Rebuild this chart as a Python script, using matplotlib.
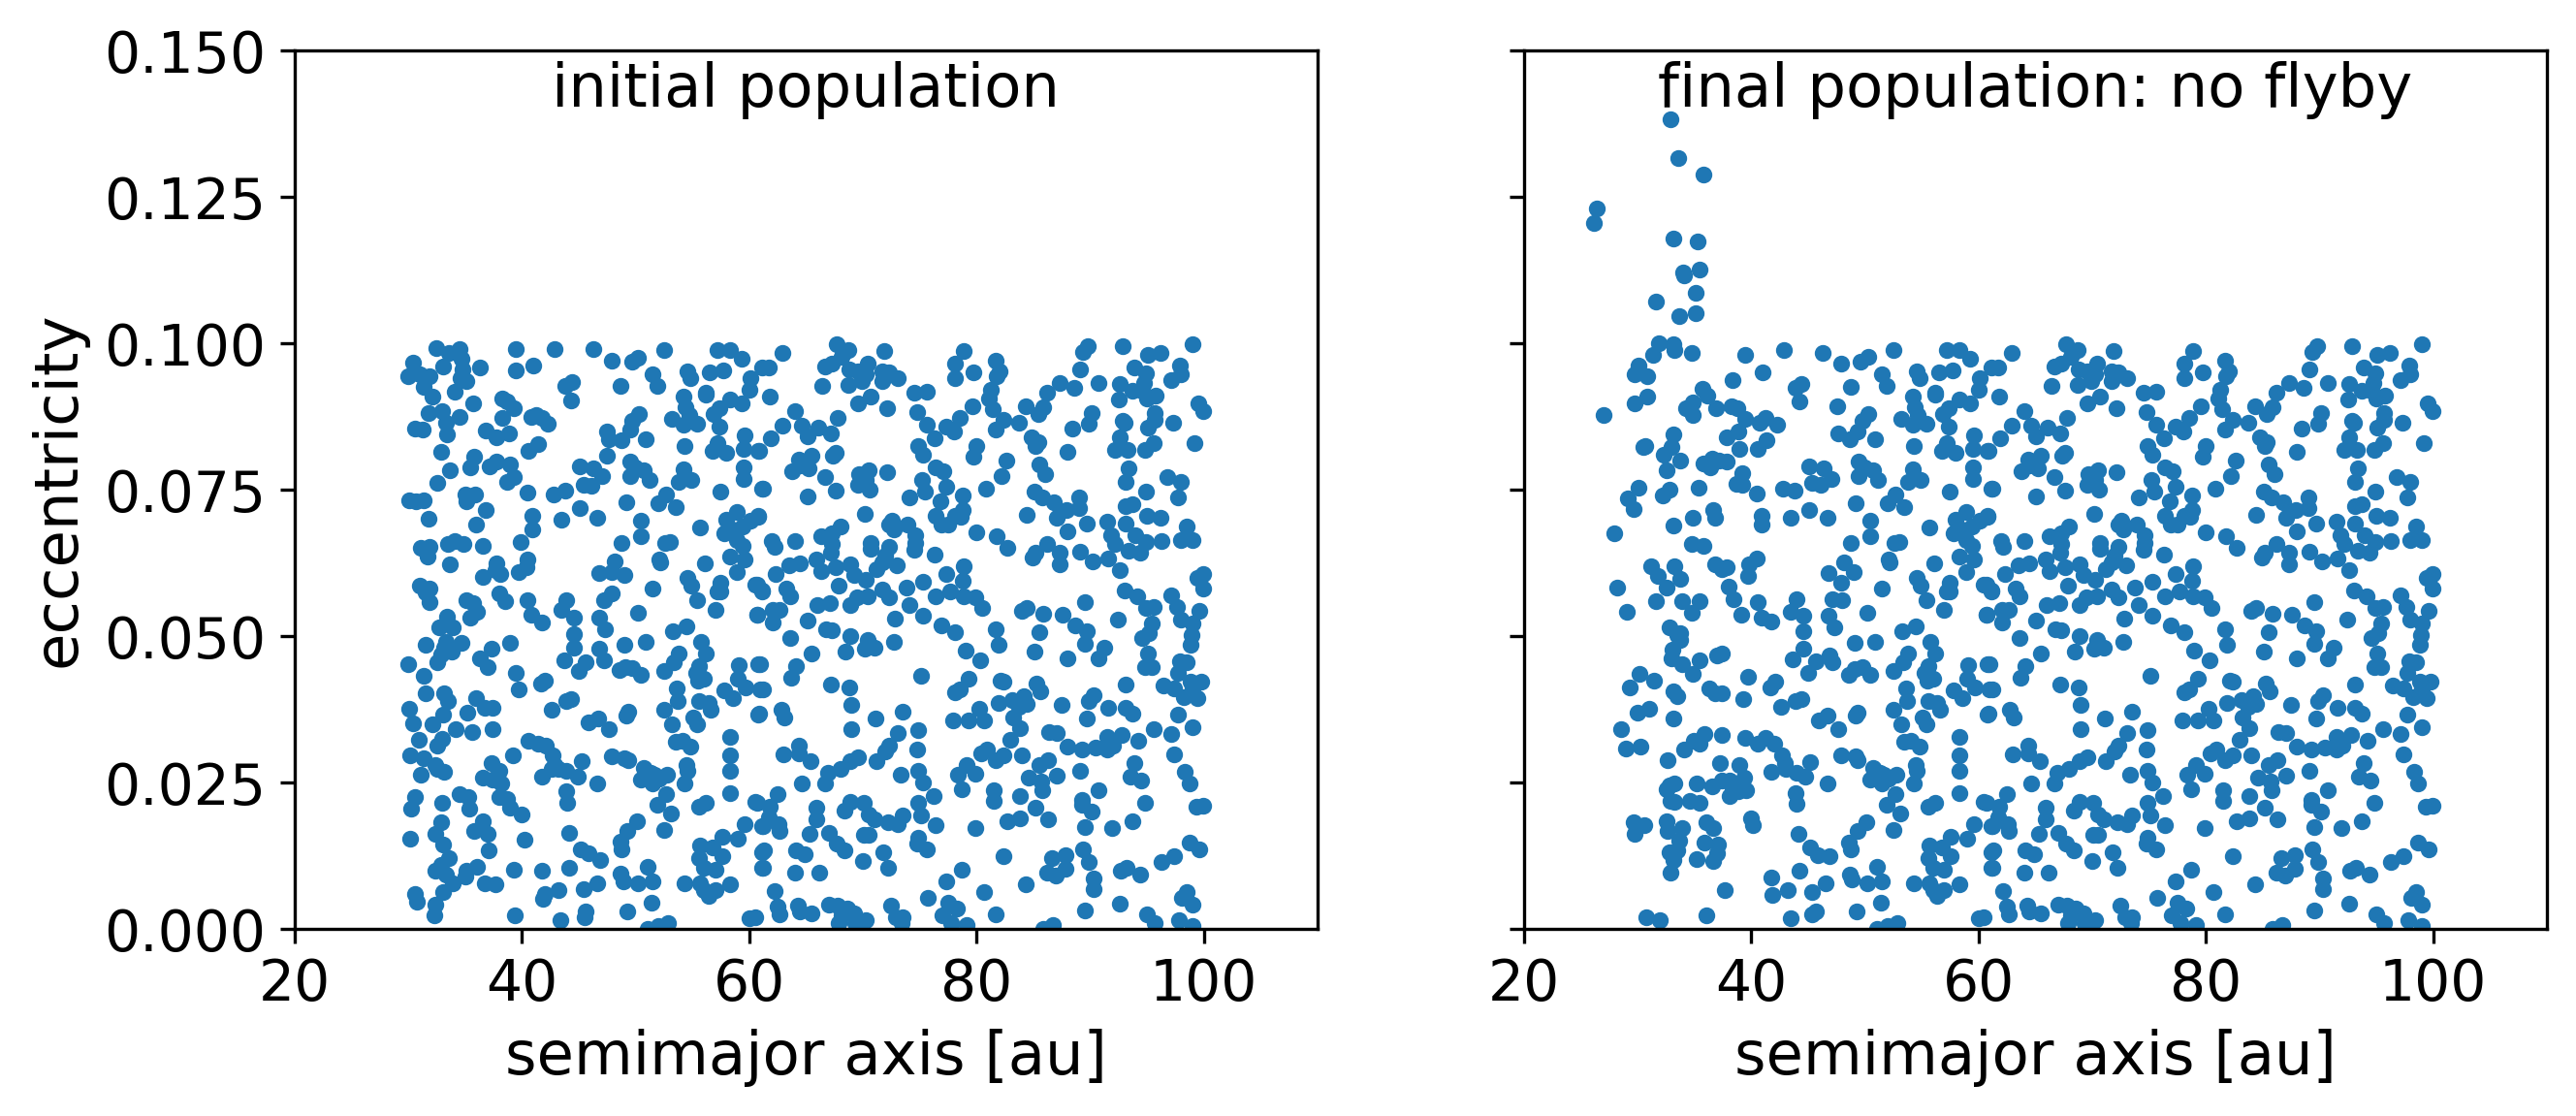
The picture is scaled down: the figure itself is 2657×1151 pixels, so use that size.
import numpy as np
import matplotlib
matplotlib.use("Agg")
import matplotlib.pyplot as plt

# (semimajor axis [au], eccentricity)

# bodies beyond about 50 au, same in both panels
shared_points = [
    (49.5,.0798),(50.0,.0789),(50.7,.0784),(49.5,.0773),(51.2,.0766),(48.8,.0660),
    (52.5,.0988),(57.2,.0988),(58.3,.0988),(59.3,.0973),(51.5,.0947),(51.9,.0927),(54.6,.0952),(54.8,.0940),
    (56.5,.0951),(57.7,.0954),(60.1,.0941),(60.0,.0921),(61.1,.0958),(56.2,.0916),(56.2,.0912),(54.2,.0909),
    (54.4,.0891),(58.3,.0904),(59.3,.0897),(57.4,.0889),(56.9,.0879),(57.4,.0858),(53.2,.0871),(54.2,.0861),
    (54.7,.0878),(55.4,.0863),(50.3,.0879),(50.9,.0836),(54.3,.0825),(57.2,.0830),(56.8,.0817),(58.0,.0813),
    (59.6,.0843),(59.5,.0819),(60.8,.0817),(59.5,.0788),(59.5,.0768),(54.2,.0785),(53.8,.0763),(54.9,.0767),
    (57.5,.0747),(61.1,.0752),(52.7,.0742),(52.0,.0727),(53.5,.0720),(50.5,.0698),(50.5,.0670),(55.7,.0686),
    (58.9,.0712),(58.0,.0699),(57.8,.0676),(58.5,.0682),(59.4,.0687),(60.1,.0698),(60.8,.0705),(58.9,.0665),
    (59.4,.0654),(52.6,.0660),(53.0,.0661),(52.1,.0631),(52.2,.0626),(56.1,.0624),(58.3,.0636),(59.6,.0631),
    (58.9,.0610),(54.6,.0599),(54.9,.0586),(57.5,.0591),(57.2,.0577),(57.5,.0576),(51.5,.0582),(55.4,.0561),
    (60.5,.0588),(61.1,.0577),(57.0,.0545),(60.7,.0536),(53.3,.0509),(54.5,.0517),
    (50.9,.0491),(55.8,.0490),(56.2,.0471),(53.8,.0470),(53.4,.0455),(52.5,.0441),(50.5,.0434),(55.6,.0449),
    (55.3,.0438),(56.0,.0428),(55.5,.0424),(59.1,.0450),(60.8,.0453),(59.0,.0427),(59.7,.0412),(57.8,.0407),
    (58.6,.0394),(61.0,.0409),(53.6,.0411),(53.7,.0390),(52.5,.0375),(55.6,.0390),(56.4,.0386),(56.6,.0375),
    (55.1,.0362),(55.4,.0350),(53.2,.0350),(60.8,.0366),(58.3,.0329),(53.5,.0320),(54.1,.0321),(54.8,.0312),
    (58.3,.0297),(54.5,.0281),(54.6,.0270),(50.7,.0275),(51.3,.0267),(51.7,.0264),(52.8,.0263),(50.5,.0255),
    (51.5,.0248),(52.1,.0257),(58.3,.0271),(54.3,.0249),(52.7,.0231),(58.3,.0233),(60.5,.0217),(51.9,.0212),
    (55.6,.0209),(56.2,.0216),(53.1,.0198),(52.5,.0169),(59.6,.0179),(61.1,.0176),(57.6,.0157),(59.0,.0154),
    (55.7,.0143),(56.8,.0140),(57.6,.0125),(61.1,.0132),(55.6,.0121),(56.0,.0104),(57.0,.0101),(61.1,.0104),
    (51.1,.0107),(51.5,.0081),(54.3,.0079),(55.7,.0079),(58.3,.0077),(57.0,.0066),(56.0,.0066),(56.4,.0057),
    (51.4,.0046),(60.0,.0019),(60.5,.0021),(51.1,.0000),(52.0,.0005),(52.9,.0010),
    (62.9,.0983),(61.7,.0959),(61.8,.0909),(67.7,.0999),(68.7,.0988),(67.3,.0966),(66.7,.0960),(68.1,.0977),
    (71.9,.0987),(70.4,.0965),(68.8,.0955),(69.6,.0952),(70.3,.0947),(71.7,.0952),(72.3,.0951),(73.1,.0940),
    (71.7,.0936),(69.9,.0936),(66.4,.0927),(68.7,.0929),(70.7,.0909),(69.6,.0898),(72.1,.0889),(64.0,.0885),
    (62.9,.0860),(64.6,.0860),(65.1,.0842),(66.1,.0857),(67.2,.0847),(67.8,.0873),(61.9,.0838),(60.9,.0816),
    (67.6,.0813),(67.4,.0808),(64.4,.0802),(65.5,.0808),(63.8,.0781),(65.2,.0787),(64.5,.0792),(66.7,.0772),
    (67.6,.0748),(65.1,.0738),(61.2,.0752),(69.7,.0777),(70.5,.0784),(69.6,.0759),(70.6,.0751),(70.3,.0767),
    (72.1,.0780),(70.2,.0709),(60.8,.0704),(74.5,.0915),(75.6,.0917),(78.9,.0987),(78.1,.0966),(78.1,.0941),
    (79.7,.0951),(81.7,.0970),(82.0,.0952),(81.8,.0944),(81.3,.0921),(81.1,.0905),(81.4,.0888),(79.6,.0893),
    (74.8,.0883),(75.6,.0861),(78.5,.0872),(77.3,.0858),(78.0,.0850),(76.3,.0838),(81.7,.0853),(82.4,.0869),
    (83.7,.0865),(84.3,.0893),(85.4,.0879),(85.9,.0891),(86.2,.0915),(87.3,.0933),(88.6,.0924),(89.1,.0956),
    (89.4,.0985),(89.8,.0995),(90.7,.0933),(92.9,.0995),(95.1,.0981),(96.2,.0984),(99.0,.0999),(93.9,.0959),
    (94.9,.0949),(97.9,.0962),(98.0,.0948),(97.1,.0937),(92.6,.0931),(92.5,.0904),(93.7,.0919),(94.7,.0933),
    (94.6,.0919),(95.0,.0905),(95.8,.0911),(99.5,.0897),(99.9,.0884),(95.7,.0881),(95.7,.0869),(95.1,.0857),
    (97.3,.0864),(90.1,.0881),(89.9,.0863),(88.4,.0855),(92.9,.0868),(93.0,.0864),(92.6,.0840),(92.2,.0818),
    (93.3,.0818),(94.8,.0818),(95.6,.0829),(99.2,.0829),(84.8,.0839),(85.4,.0831),(85.2,.0824),(88.0,.0815),
    (80.0,.0824),(79.7,.0806),(74.9,.0824),(75.3,.0810),(82.6,.0800),(82.2,.0773),(85.5,.0793),(86.0,.0776),
    (76.4,.0788),(77.1,.0781),(75.2,.0766),(75.5,.0747),(77.3,.0755),(74.1,.0737),(78.8,.0740),(80.8,.0752),
    (76.8,.0731),(78.8,.0716),(78.1,.0706),(78.6,.0704),(76.4,.0705),(76.9,.0690),(77.5,.0690),(93.4,.0787),
    (93.1,.0763),(96.8,.0772),(98.0,.0764),(97.7,.0737),(94.9,.0747),(93.1,.0722),(93.7,.0726),(85.1,.0747),
    (85.8,.0737),(86.8,.0728),(87.9,.0716),(89.0,.0737),(89.0,.0719),(87.1,.0703),(84.4,.0707),(89.7,.0692),
    (88.0,.0679),(91.5,.0695),(93.1,.0692),(95.0,.0705),(96.2,.0702),(91.8,.0673),(94.0,.0672),(94.9,.0661),
    (96.3,.0662),(98.5,.0687),(98.0,.0665),(99.0,.0665),(92.2,.0657),(93.4,.0646),(94.4,.0642),(91.6,.0632),
    (92.6,.0613),(89.1,.0644),(90.2,.0628),(86.2,.0658),(85.2,.0643),(84.9,.0635),(87.3,.0642),(87.3,.0622),
    (80.0,.0677),(81.8,.0670),(82.7,.0651),(76.3,.0640),(72.6,.0697),(72.3,.0690),(72.7,.0682),(73.9,.0690),
    (74.6,.0673),(74.6,.0660),(74.5,.0648),(68.0,.0687),(67.3,.0676),(66.3,.0671),(67.3,.0657),(67.2,.0643),
    (62.0,.0662),(62.2,.0653),(64.0,.0662),(70.7,.0660),(70.7,.0649),(72.3,.0653),(72.0,.0638),(65.9,.0631),
    (64.5,.0625),(63.5,.0621),(62.3,.0606),(66.3,.0611),(67.6,.0618),(68.9,.0623),(69.2,.0604),(70.3,.0596),
    (71.2,.0615),(71.7,.0626),(73.0,.0621),(67.9,.0586),(63.3,.0582),(63.6,.0569),(61.1,.0578),(60.7,.0588),
    (71.7,.0580),(72.3,.0566),(73.8,.0583),(75.3,.0593),(74.1,.0554),(77.3,.0606),(78.9,.0620),(78.8,.0595),
    (77.7,.0577),(76.4,.0568),(78.9,.0568),(79.9,.0566),(80.5,.0548),(70.4,.0569),(69.5,.0566),(68.9,.0554),
    (67.1,.0556),(66.0,.0554),(75.3,.0535),(72.8,.0530),(65.1,.0527),(62.7,.0545),(62.1,.0545),(62.1,.0523),
    (60.7,.0537),(63.6,.0497),(66.8,.0512),(67.3,.0510),(68.9,.0501),(70.4,.0494),(72.7,.0491),(76.9,.0519),
    (78.1,.0507),(81.7,.0512),(85.5,.0507),(84.0,.0544),(84.4,.0548),(85.9,.0538),(87.6,.0536),(88.7,.0519),
    (89.7,.0508),(89.5,.0558),(92.4,.0528),(93.0,.0578),(94.1,.0569),(94.9,.0548),(95.6,.0550),(95.4,.0522),
    (95.2,.0505),(94.6,.0497),(97.1,.0570),(97.6,.0550),(98.0,.0529),(99.0,.0522),(98.9,.0502),(99.6,.0544),
    (99.9,.0606),(99.4,.0600),(99.9,.0582),
    (65.5,.0470),(68.5,.0474),(70.2,.0479),(71.0,.0481),(61.0,.0453),(64.1,.0449),(63.7,.0429),(61.2,.0409),
    (67.2,.0417),(68.8,.0413),(69.0,.0382),(60.9,.0368),(62.8,.0375),(63.1,.0361),(71.1,.0359),(73.5,.0372),
    (69.0,.0341),(73.1,.0335),(74.9,.0339),(74.8,.0307),(72.3,.0314),(72.0,.0303),(71.2,.0286),(64.4,.0314),
    (63.0,.0299),(64.4,.0300),(65.4,.0286),(69.6,.0293),(68.9,.0286),(68.0,.0273),(66.9,.0267),(66.7,.0249),
    (64.6,.0249),(73.3,.0264),(74.9,.0270),(75.3,.0250),(76.2,.0228),(62.5,.0230),(60.7,.0216),(61.8,.0209),
    (61.7,.0191),(61.2,.0176),(62.6,.0179),(62.7,.0168),(65.9,.0208),(65.9,.0187),(65.3,.0163),(67.0,.0164),
    (67.7,.0146),(68.4,.0135),(68.9,.0217),(68.4,.0202),(70.1,.0216),(70.5,.0195),(71.0,.0187),(72.2,.0183),
    (73.1,.0179),(73.5,.0194),(74.9,.0216),(75.1,.0194),(76.4,.0177),(70.1,.0161),(70.5,.0161),(74.9,.0156),
    (74.8,.0146),(75.6,.0137),(71.8,.0131),(72.2,.0105),(70.0,.0117),(61.3,.0134),(61.2,.0105),(64.1,.0134),
    (64.9,.0128),(64.0,.0097),(66.2,.0096),(62.2,.0065),(62.5,.0038),(62.7,.0025),(64.3,.0041),(64.5,.0031),
    (65.5,.0027),(67.0,.0042),(67.8,.0041),(68.6,.0035),(68.1,.0024),(69.2,.0027),(70.3,.0015),(67.9,.0010),
    (69.3,.0010),(72.5,.0040),(72.9,.0021),(73.5,.0020),(73.4,.0010),(75.7,.0054),(77.3,.0081),(78.7,.0102),
    (77.5,.0046),(78.3,.0036),(77.0,.0024),(77.8,.0010),(79.1,.0007),(79.9,.0172),(80.7,.0064),(81.7,.0026),
    (82.4,.0125),(84.3,.0077),(85.9,.0000),(86.7,.0007),(79.0,.0475),(80.3,.0459),(81.9,.0485),(85.1,.0474),
    (88.0,.0463),(89.5,.0487),(91.2,.0481),(90.7,.0463),(95.1,.0471),(94.8,.0448),(95.4,.0447),(98.8,.0485),
    (97.9,.0458),(98.5,.0456),(97.7,.0438),(75.1,.0432),(79.3,.0427),(78.5,.0409),(78.1,.0405),(82.4,.0423),
    (82.1,.0424),(85.3,.0420),(85.6,.0406),(93.1,.0417),(96.4,.0416),(97.4,.0411),(98.8,.0423),(99.8,.0422),
    (98.2,.0396),(99.4,.0394),(99.0,.0411),(81.9,.0386),(83.1,.0391),(84.2,.0398),(84.4,.0384),(83.7,.0380),
    (83.2,.0361),(83.8,.0343),(83.0,.0324),(77.9,.0357),(79.3,.0357),(80.2,.0376),(80.7,.0357),(87.5,.0382),
    (90.3,.0400),(89.9,.0390),(91.6,.0378),(93.1,.0378),(93.7,.0368),(89.7,.0359),(95.6,.0342),(97.7,.0366),
    (97.1,.0333),(99.0,.0345),(86.4,.0337),(87.1,.0335),(88.0,.0312),(89.3,.0306),(90.5,.0310),(91.5,.0328),
    (91.5,.0306),(92.0,.0314),(92.8,.0332),(94.2,.0322),(97.4,.0299),(80.4,.0300),(80.9,.0306),(81.7,.0289),
    (82.4,.0296),(84.0,.0297),(86.3,.0289),(85.5,.0281),(89.1,.0271),(93.9,.0283),(93.5,.0261),(94.5,.0253),
    (98.3,.0268),(98.7,.0249),(79.1,.0280),(78.4,.0263),(79.9,.0265),(78.7,.0239),(84.6,.0258),(85.7,.0252),
    (85.8,.0238),(87.1,.0262),(81.5,.0237),(81.5,.0219),(83.8,.0228),(85.2,.0208),(82.7,.0184),(83.8,.0190),
    (86.3,.0188),(90.7,.0237),(89.3,.0220),(89.3,.0212),(90.1,.0201),(94.8,.0216),(99.3,.0209),(99.9,.0211),
    (93.7,.0184),(89.5,.0175),(91.9,.0173),(98.7,.0148),(99.6,.0136),(89.4,.0137),(89.9,.0115),(86.6,.0121),
    (87.8,.0127),(87.8,.0103),(86.2,.0097),(87.0,.0092),(97.4,.0125),(96.3,.0114),(92.7,.0100),(93.2,.0104),
    (94.4,.0094),(90.3,.0086),(90.3,.0069),(89.5,.0032),(92.6,.0044),(95.0,.0026),(95.7,.0010),(98.5,.0063),
    (98.1,.0054),(99.0,.0042),(97.8,.0015),(99.0,.0005),
]

# inner bodies, initial population
initial_points = [
    (32.5,.0992),(34.5,.0991),(33.6,.0983),(34.7,.0974),(30.4,.0967),(33.1,.0960),(36.3,.0959),(34.8,.0955),
    (30.0,.0944),(31.0,.0947),(31.9,.0944),(34.6,.0941),(35.1,.0936),(31.4,.0925),(34.1,.0917),(32.1,.0909),
    (35.7,.0898),(39.5,.0990),(42.9,.0990),(46.3,.0990),(39.5,.0954),(41.0,.0962),(47.9,.0970),(49.7,.0969),
    (50.2,.0975),(44.4,.0934),(43.8,.0927),(44.3,.0902),(48.7,.0927),(38.3,.0905),(38.7,.0901),(39.3,.0890),
    (38.3,.0873),(40.8,.0875),(41.3,.0878),(42.3,.0863),(41.8,.0872),(31.8,.0881),(33.0,.0884),(34.5,.0875),
    (33.3,.0865),(30.6,.0855),(31.3,.0853),(33.4,.0845),(36.8,.0852),(37.8,.0840),(38.9,.0846),(41.4,.0828),
    (40.6,.0817),(32.9,.0815),(35.8,.0807),(35.5,.0789),(33.7,.0783),(37.2,.0790),(37.8,.0799),(39.0,.0793),
    (39.3,.0772),(38.7,.0764),(32.6,.0762),(40.5,.0745),(42.8,.0742),(43.8,.0748),(45.1,.0790),(46.3,.0787),
    (47.1,.0773),(45.4,.0759),(46.1,.0757),(47.5,.0809),(47.5,.0850),(47.7,.0836),(48.8,.0835),(49.5,.0853),
    (49.7,.0867),(30.1,.0732),(30.7,.0731),(31.4,.0732),(31.8,.0700),(35.0,.0742),(35.9,.0742),(35.1,.0731),
    (36.8,.0716),(36.0,.0690),(40.9,.0706),(40.9,.0682),(43.5,.0699),(45.1,.0718),(46.6,.0703),(49.2,.0728),
    (39.9,.0661),(31.1,.0651),(31.9,.0652),(31.7,.0636),(33.5,.0657),(34.1,.0663),(34.9,.0657),(36.6,.0654),
    (33.7,.0623),(37.8,.0624),(40.5,.0631),(40.4,.0618),(39.7,.0610),(36.6,.0601),(38.1,.0607),(37.7,.0613),
    (31.0,.0586),(31.9,.0581),(31.5,.0574),(31.9,.0559),(46.8,.0608),(48.2,.0628),(47.9,.0610),(49.0,.0604),
    (38.0,.0573),(38.5,.0560),(35.1,.0561),(35.7,.0557),(36.1,.0542),(35.5,.0532),(40.5,.0561),(40.8,.0536),
    (41.8,.0524),(43.9,.0561),(43.5,.0545),(44.6,.0532),(44.6,.0503),(46.8,.0532),(47.3,.0512),(47.2,.0561),
    (47.9,.0573),(50.2,.0540),(33.4,.0534),(32.7,.0515),(33.9,.0516),
    (31.5,.0485),(33.3,.0491),(33.2,.0480),(34.7,.0488),(33.8,.0474),(32.9,.0469),(32.6,.0456),(30.0,.0453),
    (36.3,.0462),(37.3,.0478),(37.0,.0447),(39.0,.0489),(31.4,.0433),(31.5,.0403),(39.5,.0437),(39.7,.0410),
    (42.0,.0424),(41.7,.0419),(43.7,.0459),(44.6,.0481),(45.6,.0456),(45.0,.0440),(46.8,.0478),(47.2,.0459),
    (49.0,.0485),(48.6,.0442),(49.1,.0448),(49.7,.0445),(33.2,.0402),(33.5,.0389),(33.1,.0366),(30.1,.0376),
    (30.4,.0352),(32.1,.0349),(34.2,.0342),(35.2,.0370),(36.0,.0394),(36.7,.0378),(37.4,.0378),(35.6,.0337),
    (37.4,.0341),(30.9,.0324),(33.0,.0325),(32.6,.0313),(42.6,.0375),(43.9,.0390),(44.3,.0392),(45.9,.0353),
    (46.7,.0359),(47.7,.0341),(49.2,.0364),(49.4,.0372),(40.6,.0321),(41.4,.0317),(42.1,.0314),(42.7,.0297),
    (39.2,.0296),(30.2,.0297),(31.4,.0291),(32.4,.0281),(32.6,.0273),(33.2,.0269),(31.1,.0263),(37.3,.0283),
    (38.0,.0270),(36.6,.0258),(37.4,.0255),(38.2,.0249),(42.9,.0281),(43.2,.0273),(42.6,.0273),(41.8,.0261),
    (43.9,.0270),(44.9,.0260),(45.3,.0286),(46.6,.0249),(47.9,.0295),(49.0,.0292),(49.4,.0288),(43.9,.0236),
    (44.0,.0215),(30.6,.0226),(30.3,.0205),(33.0,.0216),(34.5,.0230),(35.3,.0225),(35.4,.0206),(38.0,.0225),
    (38.7,.0222),(39.0,.0207),(40.0,.0196),(32.9,.0183),(32.4,.0163),(36.6,.0184),(35.8,.0168),(37.0,.0162),
    (37.1,.0135),(33.1,.0144),(30.2,.0154),(40.2,.0152),(44.2,.0165),(33.6,.0121),(32.9,.0110),(32.4,.0099),
    (33.3,.0093),(33.9,.0078),(33.1,.0064),(35.1,.0099),(35.0,.0090),(36.1,.0107),(36.7,.0079),(37.7,.0076),
    (39.3,.0102),(41.8,.0100),(44.2,.0104),(30.6,.0060),(30.8,.0047),(32.4,.0042),(32.3,.0023),(39.4,.0024),
    (42.0,.0060),(41.9,.0052),(43.2,.0066),(43.4,.0015),(45.4,.0069),(46.6,.0079),(45.6,.0030),(45.5,.0020),
    (45.2,.0136),(45.9,.0130),(46.9,.0118),(48.8,.0136),(48.7,.0150),(49.3,.0168),(50.1,.0184),(48.7,.0095),
    (48.9,.0082),(50.2,.0079),(49.3,.0031),
]

# inner bodies, final population
final_points = [
    (32.9,.1382),(33.6,.1316),(35.8,.1288),(26.4,.1231),(26.2,.1205),(33.2,.1179),(35.3,.1174),(35.5,.1126),
    (34.0,.1121),(34.1,.1116),(35.1,.1086),(31.6,.1071),(33.7,.1047),(35.1,.1051),
    (31.9,.1000),(33.2,.0999),(31.4,.0980),(33.3,.0988),(34.8,.0984),(39.5,.0980),(42.9,.0989),(46.3,.0984),
    (47.9,.0966),(49.6,.0969),(50.3,.0977),(30.1,.0962),(29.8,.0947),(30.9,.0944),(41.0,.0951),(38.4,.0938),
    (44.4,.0930),(43.9,.0924),(44.3,.0901),(48.8,.0926),(47.6,.0893),(30.9,.0909),(29.8,.0898),(27.0,.0878),
    (35.7,.0923),(36.2,.0911),(34.9,.0900),(34.3,.0890),(34.9,.0878),(36.9,.0889),(38.3,.0893),(38.8,.0890),
    (39.5,.0871),(40.8,.0864),(41.3,.0872),(42.3,.0861),(38.9,.0850),(37.9,.0840),(33.2,.0845),(30.7,.0825),
    (30.5,.0823),(33.0,.0823),(32.3,.0810),(33.8,.0800),(32.6,.0783),(39.0,.0820),(41.4,.0835),(40.6,.0819),
    (47.7,.0846),(48.7,.0836),(49.4,.0850),(49.8,.0867),(35.8,.0795),(36.6,.0803),(36.4,.0788),(37.2,.0800),
    (37.9,.0798),(39.2,.0778),(38.7,.0760),(39.2,.0758),(40.5,.0743),(45.1,.0790),(46.4,.0787),(47.1,.0768),
    (45.4,.0762),(46.1,.0758),(42.8,.0752),(43.8,.0748),(30.1,.0753),(29.2,.0735),(29.7,.0717),(32.8,.0751),
    (32.2,.0740),(35.4,.0753),(36.7,.0715),(36.8,.0703),(34.9,.0702),(33.2,.0689),(28.0,.0676),(40.9,.0706),
    (40.9,.0691),(43.5,.0702),(45.1,.0715),(46.7,.0702),(49.2,.0727),(34.8,.0657),(35.8,.0654),(36.8,.0623),
    (37.9,.0618),(37.4,.0614),(40.5,.0633),(39.8,.0623),(39.7,.0603),(48.2,.0626),(46.8,.0608),(49.0,.0609),
    (47.9,.0591),(31.2,.0619),(31.8,.0603),(33.3,.0619),(33.8,.0598),(32.6,.0583),(28.2,.0583),(38.0,.0585),
    (38.5,.0564),(31.6,.0560),(33.9,.0560),(35.5,.0560),(34.8,.0540),(29.1,.0541),(39.1,.0536),(40.6,.0558),
    (40.9,.0532),(41.8,.0525),(44.0,.0563),(43.5,.0541),(44.6,.0535),(44.6,.0508),(47.2,.0563),(48.0,.0561),
    (46.8,.0535),(47.3,.0515),(50.2,.0540),(32.8,.0515),(33.8,.0505),
    (33.5,.0502),(33.8,.0493),(33.1,.0477),(33.0,.0463),(33.9,.0452),(35.5,.0459),(34.9,.0435),(37.0,.0467),
    (37.4,.0471),(30.2,.0435),(29.3,.0413),(31.5,.0425),(33.2,.0406),(33.5,.0397),(36.3,.0411),(36.8,.0403),
    (37.4,.0402),(39.7,.0430),(39.3,.0392),(42.1,.0423),(41.7,.0412),(43.7,.0460),(44.6,.0478),(45.7,.0457),
    (45.0,.0437),(46.9,.0467),(47.2,.0456),(49.1,.0488),(48.6,.0434),(49.1,.0444),(49.8,.0447),(42.6,.0379),
    (43.9,.0389),(44.4,.0392),(46.0,.0357),(46.7,.0364),(47.7,.0341),(49.2,.0365),(49.4,.0370),(31.0,.0377),
    (30.0,.0369),(33.2,.0360),(28.6,.0341),(29.0,.0309),(30.3,.0311),(32.7,.0289),(34.1,.0306),(35.5,.0316),
    (35.0,.0322),(35.9,.0333),(37.4,.0332),(39.5,.0327),(40.6,.0317),(41.3,.0326),(42.0,.0317),(42.7,.0297),
    (43.0,.0284),(45.2,.0285),(47.9,.0297),(49.2,.0295),(49.4,.0288),(37.3,.0283),(39.0,.0281),(39.4,.0259),
    (41.8,.0268),(43.1,.0273),(44.0,.0267),(44.8,.0261),(46.7,.0249),(43.9,.0233),(44.0,.0214),(33.3,.0249),
    (32.8,.0245),(32.6,.0239),(35.2,.0248),(36.6,.0244),(37.4,.0254),(38.1,.0254),(38.9,.0235),(39.6,.0238),
    (38.1,.0228),(38.4,.0240),(32.9,.0219),(33.3,.0217),(34.6,.0219),(35.5,.0215),(29.7,.0182),(30.6,.0178),
    (29.8,.0163),(32.6,.0184),(32.7,.0167),(33.9,.0172),(33.7,.0151),(36.1,.0183),(36.7,.0172),(40.0,.0190),
    (40.2,.0177),(44.2,.0162),(50.1,.0183),(49.4,.0168),(48.6,.0148),(48.8,.0136),(35.9,.0147),(37.1,.0145),
    (37.0,.0129),(36.7,.0116),(35.2,.0119),(32.8,.0132),(33.5,.0134),(33.2,.0118),(32.9,.0097),(45.2,.0140),
    (45.9,.0127),(46.9,.0124),(44.3,.0100),(41.8,.0088),(41.9,.0059),(43.2,.0066),(45.4,.0064),(46.6,.0079),
    (48.7,.0094),(48.9,.0085),(50.2,.0079),(37.7,.0067),(30.8,.0021),(32.0,.0015),(36.1,.0024),(43.5,.0019),
    (45.7,.0030),(45.4,.0026),(49.3,.0031),
]

xticks = [20, 40, 60, 80, 100]
panel_titles = ["initial population", "final population: no flyby"]

plt.rcParams["font.size"] = 15
plt.rcParams["xtick.labelsize"] = 14
plt.rcParams["ytick.labelsize"] = 14

left_pop = np.array(initial_points + shared_points)
right_pop = np.array(final_points + shared_points)

fig = plt.figure(figsize=(2657 / 300, 1151 / 300), dpi=300)
ax1 = fig.add_axes([303.7 / 2657, 1 - 958.3 / 1151, (1359 - 303.7) / 2657, (958.3 - 52) / 1151])
ax2 = fig.add_axes([1571.5 / 2657, 1 - 958.3 / 1151, (2627 - 1571.5) / 2657, (958.3 - 52) / 1151], sharey=ax1)

for ax, pop, title in zip([ax1, ax2], [left_pop, right_pop], panel_titles):
    ax.scatter(pop[:, 0], pop[:, 1], s=10, color="tab:blue")
    ax.set_xlim(20, 110)
    ax.set_ylim(0, 0.15)
    ax.set_xticks(xticks)
    ax.set_xlabel("semimajor axis [au]")
    ax.text(0.5, 0.922, title, transform=ax.transAxes, ha="center", va="bottom")

ax1.set_yticks([0, 0.025, 0.05, 0.075, 0.1, 0.125, 0.15])
ax1.set_ylabel("eccentricity")
ax2.tick_params(labelleft=False)

fig.savefig("out.png", dpi=300)
